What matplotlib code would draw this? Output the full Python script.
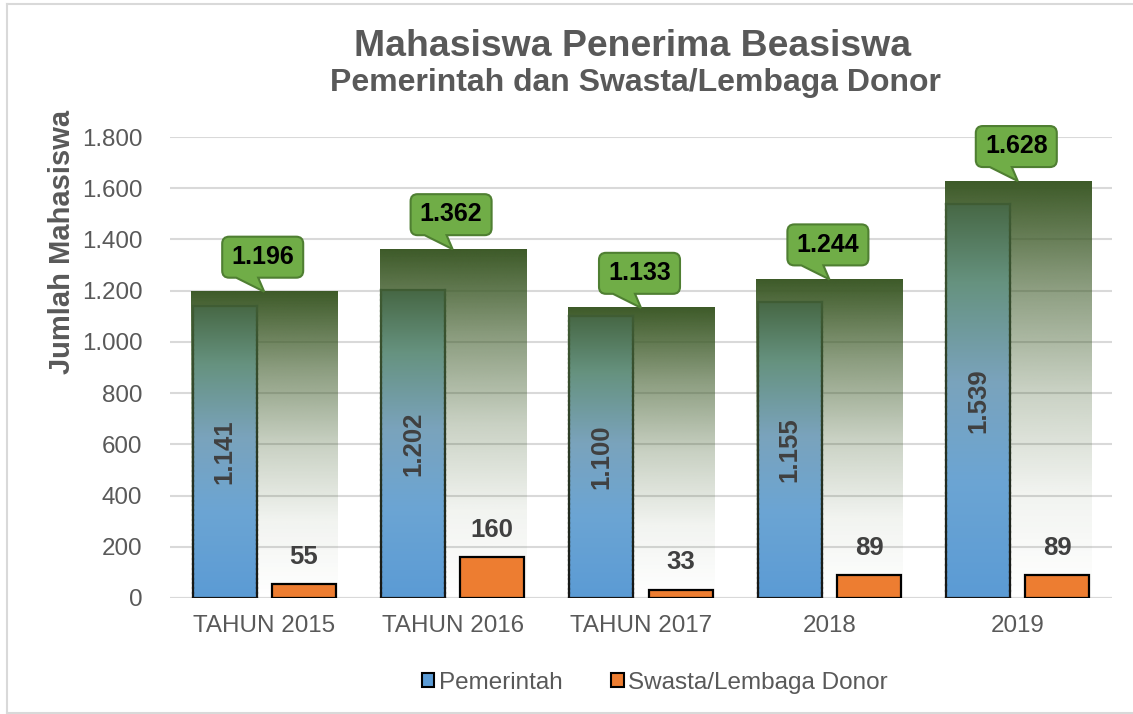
import numpy as np
import matplotlib
matplotlib.use('Agg')
import matplotlib.pyplot as plt
from matplotlib import patches, collections, transforms, lines
from matplotlib.path import Path
import matplotlib.colors as mcolors

categories = ['TAHUN 2015', 'TAHUN 2016', 'TAHUN 2017', '2018', '2019']
pemerintah = [1141, 1202, 1100, 1155, 1539]
swasta = [55, 160, 33, 89, 89]
total = [1196, 1362, 1133, 1244, 1628]

plt.rcParams['font.family'] = ['Liberation Sans', 'DejaVu Sans']
GRAY = '#595959'
DARK = '#404040'


def fmt(v):
    return f'{v:,}'.replace(',', '.')


def _vertical_gradient(ax, x0, x1, h, stops, colors, alphas, zorder):
    """Fill a bar with a bottom-to-top gradient (stops are fractions)."""
    t = np.linspace(0, 1, 256)
    rgb = np.array([mcolors.to_rgb(c) for c in colors])
    img = np.zeros((256, 1, 4))
    for k in range(3):
        img[:, 0, k] = np.interp(t, stops, rgb[:, k])
    img[:, 0, 3] = np.interp(t, stops, alphas)
    ax.imshow(img, extent=(x0, x1, 0, h), origin='lower', aspect='auto',
              zorder=zorder, interpolation='bilinear')


def _gradient_edge(ax, x0, x1, h, c_bottom, c_top, lw, zorder):
    """Bar outline whose colour fades from bottom to top."""
    n = 60
    ys = np.linspace(0, h, n + 1)
    cb, ct = np.array(mcolors.to_rgb(c_bottom)), np.array(mcolors.to_rgb(c_top))
    segs, cols = [], []
    for xe in (x0, x1):
        for i in range(n):
            segs.append([(xe, ys[i]), (xe, ys[i + 1])])
            f = (i + 0.5) / n
            cols.append(cb * (1 - f) + ct * f)
    segs.append([(x0, 0), (x1, 0)])
    cols.append(cb)
    segs.append([(x0, h), (x1, h)])
    cols.append(ct)
    ax.add_collection(collections.LineCollection(
        segs, colors=cols, linewidths=lw, zorder=zorder, capstyle='projecting'))


def _callout_path():
    """Rounded box with a tail; units are points relative to the tail tip."""
    s = 0.72  # px -> pt at 100 dpi
    L, R, B, T, r = -42 * s, 39 * s, 14 * s, 55 * s, 7 * s
    a, b = -28 * s, -6 * s
    verts = [(L + r, B), (a, B), (0, 0), (b, B), (R - r, B),
             (R, B), (R, B + r), (R, T - r),
             (R, T), (R - r, T), (L + r, T),
             (L, T), (L, T - r), (L, B + r),
             (L, B), (L + r, B), (L + r, B)]
    codes = [Path.MOVETO, Path.LINETO, Path.LINETO, Path.LINETO, Path.LINETO,
             Path.CURVE3, Path.CURVE3, Path.LINETO,
             Path.CURVE3, Path.CURVE3, Path.LINETO,
             Path.CURVE3, Path.CURVE3, Path.LINETO,
             Path.CURVE3, Path.CURVE3, Path.CLOSEPOLY]
    return Path(verts, codes)


fig = plt.figure(figsize=(11.33, 7.14), dpi=100)
ax = fig.add_axes([170 / 1133, 1 - 598 / 714, 942 / 1133, 461 / 714])

x = np.arange(len(categories))
w_tot, w_bar, off = 0.775, 0.34, 0.21

for i in x:
    # total bar: dark green fading to transparent
    _vertical_gradient(ax, i - w_tot / 2, i + w_tot / 2, total[i],
                       [0, 0.25, 0.5, 0.75, 1.0], ['#3d5a28'] * 5,
                       [0.0, 0.07, 0.28, 0.6, 1.0], zorder=1)
    # pemerintah bar: blue at bottom turning green at top
    x0, x1 = i - off - w_bar / 2, i - off + w_bar / 2
    _vertical_gradient(ax, x0, x1, pemerintah[i],
                       [0, 0.3, 0.55, 0.8, 1.0],
                       ['#5b9bd5', '#6ca5d3', '#7aa3bc', '#66927f', '#476845'],
                       [1, 1, 1, 1, 1], zorder=2)
    _gradient_edge(ax, x0, x1, pemerintah[i], '#151515', '#3f5c33', 1.6, 3)
    # swasta bar
    ax.add_patch(patches.Rectangle((i + off - w_bar / 2, 0), w_bar, swasta[i],
                                   facecolor='#ed7d31', edgecolor='black',
                                   linewidth=1.6, zorder=3))

    ax.text(i - off, pemerintah[i] / 2, fmt(pemerintah[i]), rotation=90,
            ha='center', va='center', fontsize=18.5, fontweight='bold',
            color=DARK, zorder=5)
    ax.annotate(fmt(swasta[i]), xy=(i + off, swasta[i]), xytext=(0, 19.5),
                textcoords='offset points', ha='center', va='center',
                fontsize=18.5, fontweight='bold', color=DARK, zorder=5)

ax.set_xlim(-0.5, len(categories) - 0.5)
ax.set_ylim(0, 1800)

# callouts with totals
callout = _callout_path()
for i in x:
    trans = (transforms.Affine2D().scale(1 / 72) + fig.dpi_scale_trans +
             transforms.ScaledTranslation(i, total[i], ax.transData))
    ax.add_patch(patches.PathPatch(callout, transform=trans,
                                   facecolor='#70ad47', edgecolor='#4f7f32',
                                   linewidth=1.5, zorder=6, clip_on=False))
    ax.annotate(fmt(total[i]), xy=(i, total[i]), xytext=(-1.1, 25),
                textcoords='offset points', ha='center', va='center',
                fontsize=18, fontweight='bold', color='black', zorder=7,
                annotation_clip=False)

ax.set_yticks(np.arange(0, 1801, 200))
ax.set_yticklabels([fmt(v) for v in range(0, 1801, 200)])
ax.set_xticks(x)
ax.set_xticklabels(categories)
ax.tick_params(axis='both', length=0, labelsize=17.4, labelcolor=GRAY)
ax.tick_params(axis='y', pad=20)
ax.tick_params(axis='x', pad=12)
ax.grid(axis='y', color='#d9d9d9', linewidth=1.5, zorder=0)
ax.set_axisbelow(True)
for sp in ax.spines.values():
    sp.set_visible(False)
ax.axhline(0, color='#d9d9d9', linewidth=1.5, zorder=0.5)

fig.text(633 / 1133, 1 - 46 / 714, 'Mahasiswa Penerima Beasiswa', ha='center',
         va='center', fontsize=26.9, fontweight='bold', color=GRAY)
fig.text(635 / 1133, 1 - 83 / 714, 'Pemerintah dan Swasta/Lembaga Donor',
         ha='center', va='center', fontsize=23, fontweight='bold', color=GRAY)
fig.text(62 / 1133, 1 - 242 / 714, 'Jumlah Mahasiswa', rotation=90,
         ha='center', va='center', fontsize=21, fontweight='bold', color=GRAY)

handles = [patches.Patch(facecolor='#5b9bd5', edgecolor='black', linewidth=1.5),
           patches.Patch(facecolor='#ed7d31', edgecolor='black', linewidth=1.5)]
leg = fig.legend(handles, ['Pemerintah', 'Swasta/Lembaga Donor'], loc='center',
                 bbox_to_anchor=(655 / 1133, 1 - 683 / 714), ncol=2,
                 frameon=False, fontsize=17.5, handlelength=0.5,
                 handleheight=0.5, handletextpad=0.2, columnspacing=2.0)
for t in leg.get_texts():
    t.set_color(GRAY)

# light frame around the chart area
for xs, ys in [((7, 1133), (4, 4)), ((7, 7), (4, 713)), ((7, 1133), (713, 713))]:
    fig.add_artist(lines.Line2D([v / 1133 for v in xs],
                                [1 - v / 714 for v in ys],
                                color='#d9d9d9', linewidth=1.5))

fig.savefig('out.png', dpi=100)
